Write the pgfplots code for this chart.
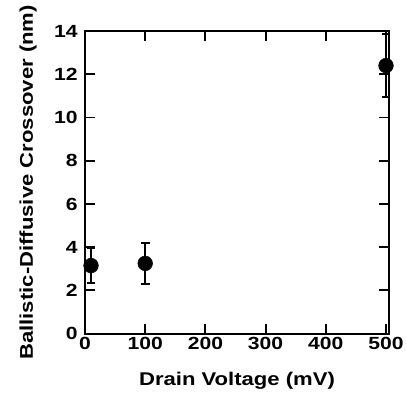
\documentclass[border=0pt]{standalone}
\usepackage{fontspec}
\setmainfont{Liberation Sans}[FakeStretch=1.2]
\usepackage{pgfplots}
\pgfplotsset{compat=1.18}
\begin{document}
\begin{tikzpicture}
\begin{axis}[
  scale only axis, width=228pt, height=227pt,
  xmin=0, xmax=505, ymin=0, ymax=14,
  xtick={0,100,...,500}, ytick={0,2,...,14},
  axis line style={line width=1.5pt},
  major tick length=7.5pt,
  tick style={line width=1.4pt, black},
  tick align=inside,
  ticklabel style={font=\fontsize{13.2}{15}\selectfont\bfseries},
  /pgf/number format/assume math mode=true,
  xticklabel style={yshift=1pt},
  yticklabel style={xshift=-2pt},
  xlabel={Drain Voltage (mV)}, ylabel={Ballistic-Diffusive Crossover (nm)},
  every axis x label/.style={at={(axis description cs:0.5,-0.154)}, anchor=center, font=\fontsize{13.8}{15}\selectfont\bfseries},
  every axis y label/.style={at={(axis description cs:-0.1875,0.5)}, anchor=center, rotate=90, font=\fontsize{13.8}{15}\selectfont\bfseries},
  clip=false,
]
\addplot[only marks, mark=*, mark size=5.5pt, black,
  error bars/.cd, y dir=both, y explicit,
  error bar style={line width=1.6pt, black},
  error mark options={rotate=90, mark size=3.3pt, line width=1.6pt, black}]
  coordinates {
    (10,3.15) +- (0,0.8)
    (100,3.25) +- (0,0.95)
    (500,12.4) +- (0,1.45)
  };
\end{axis}
\pgfresetboundingbox
\path (-63.75pt,-46.5pt) rectangle (240.75pt,250.25pt);
\end{tikzpicture}
\end{document}
